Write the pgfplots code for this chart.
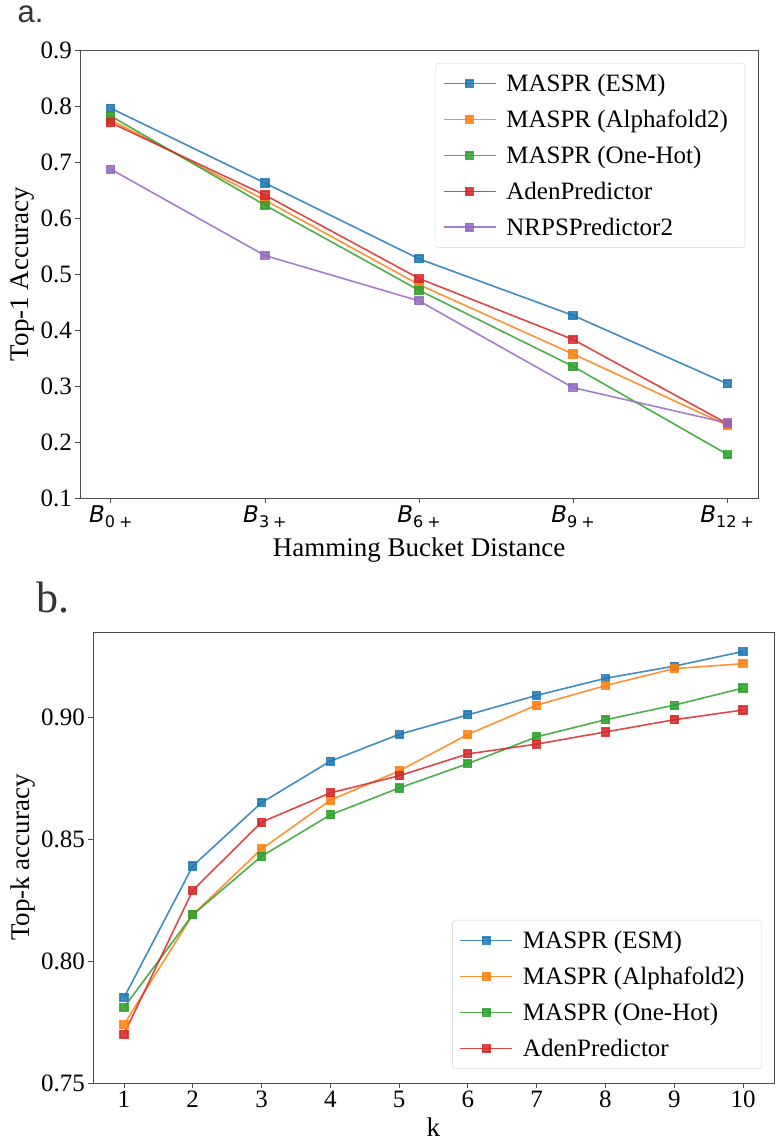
\documentclass[border=0pt]{standalone}
\usepackage{pgfplots}
\pgfplotsset{compat=1.18}
\usepackage{fontspec}
\setmainfont{Liberation Serif}
\newfontfamily\dejavu{DejaVu Sans}
\newfontfamily\arialf{Liberation Sans}
\definecolor{tb}{HTML}{1F77B4}
\definecolor{to}{HTML}{FF7F0E}
\definecolor{tg}{HTML}{2CA02C}
\definecolor{tr}{HTML}{D62728}
\definecolor{tp}{HTML}{9467BD}
\newcommand{\Bl}[1]{{\dejavu\fontsize{23}{23}\selectfont\itshape B}{\dejavu\fontsize{16}{16}\selectfont\raisebox{-5pt}{#1\kern4pt+}}}
\pgfplotsset{
  myax/.style={
    scale only axis,
    axis line style={black!70, line width=0.9pt},
    tick align=outside, tick pos=left,
    major tick length=5pt,
    every tick/.style={black!70, line width=0.8pt},
    /pgf/number format/assume math mode=true,
    tick label style={font=\fontsize{25}{25}\selectfont},
    label style={font=\fontsize{27}{27}\selectfont},
    yticklabel style={inner sep=3pt},
    xticklabel style={inner sep=3pt},
    every axis plot/.append style={line width=1.6pt, mark=square*, mark size=3.8pt, opacity=0.85},
    legend cell align=left,
    legend image code/.code={\draw[mark repeat=2,mark phase=2] plot coordinates {(0pt,0pt) (26pt,0pt) (52pt,0pt)};},
    legend style={draw=black!18, rounded corners=3pt, fill=white, fill opacity=0.8, text opacity=1,
      font=\fontsize{25}{25}\selectfont, row sep=13pt, inner xsep=7pt, inner ysep=9pt,
      nodes={inner xsep=10pt, inner ysep=2pt}},
  }
}
\begin{document}
\begin{tikzpicture}
\useasboundingbox (0pt,0pt) rectangle (780pt,1142pt);
\node[anchor=base west, font=\arialf\fontsize{31}{31}\selectfont, text=black!80] at (14pt,1119pt) {a.};
\node[anchor=base west, font=\fontsize{44}{44}\selectfont, text=black!80] at (33pt,529pt) {b.};
\begin{axis}[myax,
  at={(80pt,644pt)}, anchor=south west,
  width=678pt, height=448pt,
  xmin=-0.2, xmax=4.2, ymin=0.1, ymax=0.9,
  xtick={0,1,2,3,4},
  xticklabels={\Bl{0},\Bl{3},\Bl{6},\Bl{9},\Bl{12}},
  ytick={0.1,0.2,0.3,0.4,0.5,0.6,0.7,0.8,0.9},
  yticklabels={0.1,0.2,0.3,0.4,0.5,0.6,0.7,0.8,0.9},
  xlabel={Hamming Bucket Distance},
  ylabel={Top-1 Accuracy},
  xlabel style={at={(axis description cs:0.5,-0.116)}, anchor=center},
  ylabel style={at={(axis description cs:-0.0855,0.5)}, anchor=center},
  legend style={at={(axis description cs:0.981,0.971)}, anchor=north east},
]
\addplot[color=tb] coordinates {(0,0.796) (1,0.6625) (2,0.527) (3,0.426) (4,0.304)};
\addlegendentry{MASPR (ESM)}
\addplot[color=to] coordinates {(0,0.775) (1,0.632) (2,0.481) (3,0.357) (4,0.230)};
\addlegendentry{MASPR (Alphafold2)}
\addplot[color=tg] coordinates {(0,0.782) (1,0.623) (2,0.471) (3,0.335) (4,0.178)};
\addlegendentry{MASPR (One-Hot)}
\addplot[color=tr] coordinates {(0,0.770) (1,0.641) (2,0.492) (3,0.383) (4,0.233)};
\addlegendentry{AdenPredictor}
\addplot[color=tp] coordinates {(0,0.687) (1,0.533) (2,0.452) (3,0.297) (4,0.234)};
\addlegendentry{NRPSPredictor2}
\end{axis}
\begin{axis}[myax,
  at={(93pt,59pt)}, anchor=south west,
  width=681pt, height=451pt,
  xmin=0.55, xmax=10.45, ymin=0.75, ymax=0.935,
  xtick={1,2,3,4,5,6,7,8,9,10},
  ytick={0.75,0.80,0.85,0.90},
  yticklabels={0.75,0.80,0.85,0.90},
  xlabel={k},
  ylabel={Top-k accuracy},
  xlabel style={at={(axis description cs:0.5,-0.0976)}, anchor=center},
  ylabel style={at={(axis description cs:-0.103,0.5)}, anchor=center},
  legend style={at={(axis description cs:0.982,0.031)}, anchor=south east},
]
\addplot[color=tb] coordinates {(1,0.785) (2,0.839) (3,0.865) (4,0.882) (5,0.893) (6,0.901) (7,0.909) (8,0.916) (9,0.921) (10,0.927)};
\addlegendentry{MASPR (ESM)}
\addplot[color=to] coordinates {(1,0.774) (2,0.819) (3,0.846) (4,0.866) (5,0.878) (6,0.893) (7,0.905) (8,0.913) (9,0.920) (10,0.922)};
\addlegendentry{MASPR (Alphafold2)}
\addplot[color=tg] coordinates {(1,0.781) (2,0.819) (3,0.843) (4,0.860) (5,0.871) (6,0.881) (7,0.892) (8,0.899) (9,0.905) (10,0.912)};
\addlegendentry{MASPR (One-Hot)}
\addplot[color=tr] coordinates {(1,0.770) (2,0.829) (3,0.857) (4,0.869) (5,0.876) (6,0.885) (7,0.889) (8,0.894) (9,0.899) (10,0.903)};
\addlegendentry{AdenPredictor}
\end{axis}
\end{tikzpicture}
\end{document}
